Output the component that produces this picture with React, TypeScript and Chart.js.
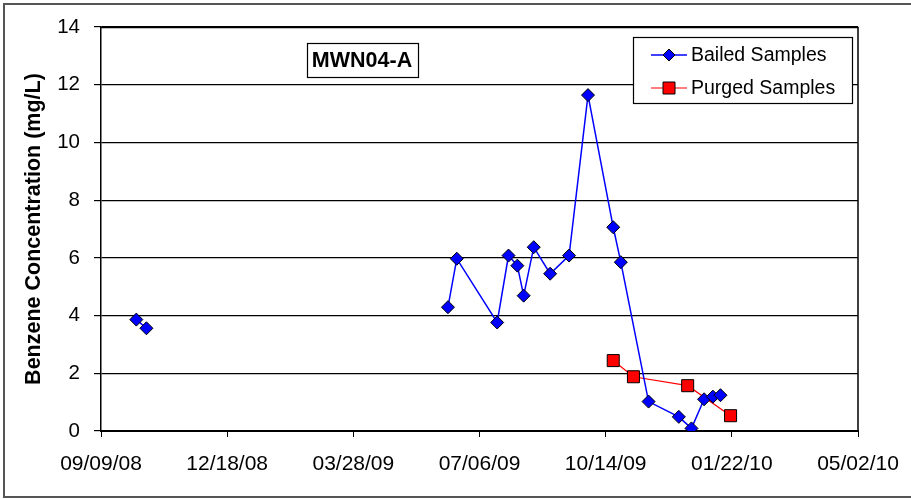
import React, { useEffect, useRef } from "react";
import { Chart, registerables } from "chart.js";

Chart.register(...registerables);

// ---- data ----
const startDate = "2008-09-09";
const xTickStepDays = 100;
const xMaxDays = 600;
const yMin = 0;
const yMax = 14;
const yStep = 2;
const chartTitle = "MWN04-A";
const yAxisTitle = "Benzene Concentration (mg/L)";

const bailedLabel = "Bailed Samples";
const bailedDates = [
  "2008-10-07", "2008-10-15", "2009-06-11", "2009-06-18", "2009-07-20",
  "2009-07-29", "2009-08-05", "2009-08-10", "2009-08-18", "2009-08-31",
  "2009-09-15", "2009-09-30", "2009-10-20", "2009-10-26", "2009-11-17",
  "2009-12-11", "2009-12-21", "2009-12-31", "2010-01-07", "2010-01-13",
];
const bailedValues = [
  3.86, 3.56, 4.29, 5.97, 3.76,
  6.08, 5.73, 4.69, 6.37, 5.45,
  6.08, 11.64, 7.06, 5.85, 1.02,
  0.49, 0.09, 1.1, 1.19, 1.24,
];

const purgedLabel = "Purged Samples";
const purgedDates = ["2009-10-20", "2009-11-05", "2009-12-18", "2010-01-21"];
const purgedValues = [2.44, 1.88, 1.57, 0.53];

// ---- helpers ----
const DAY = 86400000;
const toDays = (iso: string) => {
  const [y, m, d] = iso.split("-").map(Number);
  const [sy, sm, sd] = startDate.split("-").map(Number);
  return Math.round((Date.UTC(y, m - 1, d) - Date.UTC(sy, sm - 1, sd)) / DAY);
};
const fmtDay = (n: number) => {
  const [sy, sm, sd] = startDate.split("-").map(Number);
  const dt = new Date(Date.UTC(sy, sm - 1, sd) + n * DAY);
  const mm = String(dt.getUTCMonth() + 1).padStart(2, "0");
  const dd = String(dt.getUTCDate()).padStart(2, "0");
  const yy = String(dt.getUTCFullYear() % 100).padStart(2, "0");
  return `${mm}/${dd}/${yy}`;
};

const FONT = "'Liberation Sans', Arial, sans-serif";

const decorPlugin = {
  id: "decor",
  beforeDraw(chart: any) {
    const { ctx } = chart;
    ctx.save();
    ctx.fillStyle = "#fff";
    ctx.fillRect(0, 0, chart.width, chart.height);
    ctx.strokeStyle = "#555";
    ctx.lineWidth = 2;
    ctx.strokeRect(4, 4, chart.width + 10, 493);
    ctx.restore();
  },
  afterDraw(chart: any) {
    const { ctx, chartArea } = chart;
    ctx.save();
    // plot frame (top/right)
    ctx.strokeStyle = "#000";
    ctx.lineWidth = 1.5;
    ctx.beginPath();
    ctx.moveTo(chartArea.left, chartArea.top + 0.5);
    ctx.lineTo(chartArea.right, chartArea.top + 0.5);
    ctx.lineTo(chartArea.right, chartArea.bottom);
    ctx.stroke();

    // title box
    ctx.fillStyle = "#fff";
    ctx.fillRect(307.5, 43.5, 111, 34);
    ctx.lineWidth = 1.2;
    ctx.strokeStyle = "#000";
    ctx.strokeRect(307.5, 43.5, 111, 34);
    ctx.fillStyle = "#000";
    ctx.font = `bold 21.5px ${FONT}`;
    ctx.textAlign = "center";
    ctx.textBaseline = "middle";
    ctx.fillText(chartTitle, 362, 61);

    // legend
    const lx = 633.5, ly = 37.5, lw = 219, lh = 66;
    ctx.fillStyle = "#fff";
    ctx.fillRect(lx, ly, lw, lh);
    ctx.strokeRect(lx, ly, lw, lh);
    const rows = [55, 88];
    chart.data.datasets.forEach((ds: any, i: number) => {
      const y = rows[i];
      ctx.strokeStyle = ds.borderColor;
      ctx.lineWidth = ds.borderWidth;
      ctx.beginPath();
      ctx.moveTo(651, y);
      ctx.lineTo(687, y);
      ctx.stroke();
      ctx.fillStyle = ds.pointBackgroundColor;
      ctx.strokeStyle = ds.pointBorderColor;
      ctx.lineWidth = ds.pointBorderWidth;
      ctx.beginPath();
      if (ds.pointStyle === "rectRot") {
        const r = 6;
        ctx.moveTo(669 - r, y);
        ctx.lineTo(669, y - r);
        ctx.lineTo(669 + r, y);
        ctx.lineTo(669, y + r);
        ctx.closePath();
      } else {
        const s = 6;
        ctx.rect(669 - s, y - s, 2 * s, 2 * s);
      }
      ctx.fill();
      ctx.stroke();
      ctx.fillStyle = "#000";
      ctx.font = `19.5px ${FONT}`;
      ctx.textAlign = "left";
      ctx.textBaseline = "middle";
      ctx.fillText(ds.label, 691, y + 1);
    });
    ctx.restore();
  },
};

export default function App() {
  const ref = useRef<HTMLCanvasElement>(null);
  useEffect(() => {
    if (!ref.current) return;
    const chart = new Chart(ref.current, {
      type: "line",
      data: {
        datasets: [
          {
            label: bailedLabel,
            data: bailedDates.map((d, i) => ({ x: toDays(d), y: bailedValues[i] })),
            borderColor: "#0000ff",
            borderWidth: 1.5,
            pointStyle: "rectRot",
            pointRadius: 6.5,
            pointBackgroundColor: "#0000ff",
            pointBorderColor: "#000",
            pointBorderWidth: 1,
            spanGaps: xTickStepDays,
            tension: 0,
          },
          {
            label: purgedLabel,
            data: purgedDates.map((d, i) => ({ x: toDays(d), y: purgedValues[i] })),
            borderColor: "#ff0000",
            borderWidth: 1.2,
            pointStyle: "rect",
            pointRadius: 8.5,
            pointBackgroundColor: "#ff0000",
            pointBorderColor: "#000",
            pointBorderWidth: 1,
            tension: 0,
          },
        ],
      },
      options: {
        animation: false,
        responsive: false,
        maintainAspectRatio: false,
        events: [],
        layout: { padding: { top: 27, right: 53, left: 0, bottom: 0 } },
        plugins: {
          legend: { display: false },
          tooltip: { enabled: false },
          title: { display: false },
        },
        scales: {
          x: {
            type: "linear",
            min: 0,
            max: xMaxDays,
            afterFit: (s: any) => {
              s.height = 68;
              s.paddingLeft = 0;
              s.paddingRight = 0;
            },
            afterBuildTicks: (s: any) => {
              const t = [];
              for (let v = 0; v <= xMaxDays; v += xTickStepDays) t.push({ value: v });
              s.ticks = t;
            },
            ticks: {
              callback: (v: any) => fmtDay(Number(v)),
              color: "#000",
              font: { family: FONT, size: 21 },
              maxRotation: 0,
              autoSkip: false,
              padding: 15,
            },
            grid: { drawOnChartArea: false, color: "#000", tickLength: 6, lineWidth: 1 },
            border: { color: "#000", width: 2 },
          },
          y: {
            min: yMin,
            max: yMax,
            afterFit: (s: any) => {
              s.width = 101;
              s.paddingTop = 0;
              s.paddingBottom = 0;
            },
            ticks: {
              stepSize: yStep,
              color: "#000",
              font: { family: FONT, size: 20.5 },
              padding: 14,
            },
            grid: { color: "#000", tickLength: 7, lineWidth: 1.2 },
            border: { color: "#000", width: 1.5 },
            title: {
              display: true,
              text: yAxisTitle,
              color: "#000",
              font: { family: FONT, size: 21.5, weight: "bold" },
              padding: { top: 21, bottom: 0 },
            },
          },
        },
      },
      plugins: [decorPlugin],
    });
    return () => chart.destroy();
  }, []);
  return (
    <div style={{ position: "fixed", left: 0, top: 0, width: 911, height: 499, background: "#fff" }}>
      <canvas ref={ref} width={911} height={499} style={{ display: "block", width: 911, height: 499 }} />
    </div>
  );
}
